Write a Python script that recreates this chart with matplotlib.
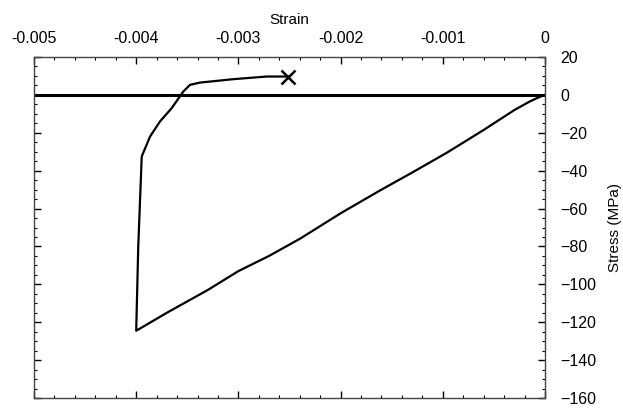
import matplotlib
matplotlib.use("Agg")
import matplotlib.pyplot as plt
from matplotlib.ticker import MultipleLocator, FixedLocator

plt.rcParams['font.family'] = ['Liberation Sans', 'DejaVu Sans']

# Loading (compression) then unloading/tension path
strain = [0.0, -0.00005, -0.00015, -0.0003, -0.0006, -0.00096, -0.0013, -0.0016,
          -0.0020, -0.0024, -0.0027, -0.0030, -0.0033, -0.0037, -0.0040,
          -0.00398, -0.003946, -0.003865, -0.003767, -0.003653, -0.00354,
          -0.003474, -0.003376, -0.00305, -0.002723, -0.00251]
stress = [0.0, -1.0, -3.5, -8.0, -18.5, -30.5, -41.0, -50.0,
          -62.5, -76.0, -85.0, -93.0, -103.0, -115.0, -124.5,
          -80.0, -32.5, -22.0, -14.0, -7.0, 1.7,
          5.3, 6.5, 8.3, 9.7, 9.7]
fail_strain = [-0.00251]
fail_stress = [9.7]

xticks = [-0.005, -0.004, -0.003, -0.002, -0.001, 0]
xticklabels = ['-0.005', '-0.004', '-0.003', '-0.002', '-0.001', '0']
yticks = [20, 0, -20, -40, -60, -80, -100, -120, -140, -160]

fig = plt.figure(figsize=(6.23, 4.09), dpi=100)
ax = fig.add_axes([0.0546, 0.0269, 0.8202, 0.8337])

ax.axhline(0, color='black', lw=2.2, zorder=2)
ax.plot(strain, stress, color='black', lw=1.6, zorder=3)
ax.plot(fail_strain, fail_stress, marker='x', color='black', ms=10, mew=1.8, ls='none', zorder=4)

ax.set_xlim(-0.005, 0)
ax.set_ylim(-160, 20)

ax.xaxis.set_major_locator(FixedLocator(xticks))
ax.set_xticklabels(xticklabels)
ax.xaxis.set_minor_locator(MultipleLocator(0.0002))
ax.yaxis.set_major_locator(FixedLocator(yticks))
ax.yaxis.set_minor_locator(MultipleLocator(5))

ax.xaxis.set_ticks_position('both')
ax.xaxis.set_label_position('top')
ax.tick_params(axis='x', which='both', direction='in', labeltop=True, labelbottom=False)
ax.yaxis.set_ticks_position('both')
ax.yaxis.set_label_position('right')
ax.tick_params(axis='y', which='both', direction='in', labelright=True, labelleft=False)
ax.tick_params(which='major', length=5, width=1, labelsize=11.5)
ax.tick_params(axis='x', which='major', pad=8)
ax.tick_params(axis='y', which='major', pad=11)
ax.tick_params(which='minor', length=2.5, width=0.8)
ax.set_xlabel('Strain', fontsize=11, labelpad=5)
ax.set_ylabel('Stress (MPa)', fontsize=11, labelpad=8)

for s in ax.spines.values():
    s.set_linewidth(1.0)
    s.set_color('#444444')

fig.savefig('out.png', dpi=100)
